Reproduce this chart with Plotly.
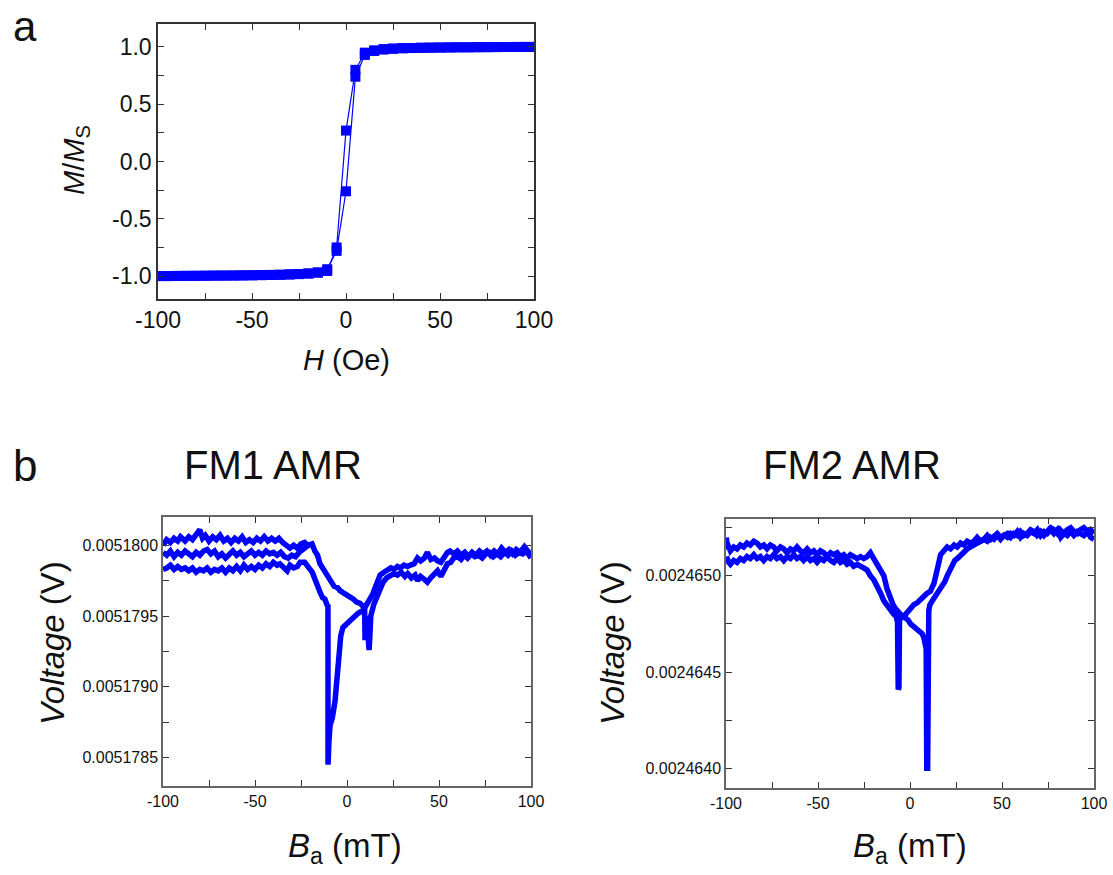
import numpy as np
import plotly.graph_objects as go

W, H_PX = 1113, 875

# ---------------- panel a : hysteresis loop ----------------
H_field = [-100, -95, -90, -85, -80, -75, -70, -65, -60, -55, -50, -45, -40, -35, -30, -25,
           -20, -15, -10, -5, 0, 5, 10, 15, 20, 25, 30, 35, 40, 45, 50, 55, 60, 65, 70, 75,
           80, 85, 90, 95, 100]
M_up = [-1.0, -1.0, -0.998, -0.998, -0.997, -0.997, -0.996, -0.996, -0.995, -0.994, -0.993,
        -0.992, -0.99, -0.989, -0.986, -0.983, -0.978, -0.97, -0.94, -0.78, -0.26, 0.74, 0.93,
        0.965, 0.978, 0.985, 0.988, 0.99, 0.992, 0.993, 0.994, 0.995, 0.996, 0.996, 0.997,
        0.998, 0.998, 0.999, 0.999, 1.0, 1.0]
M_down = [-1.0, -1.0, -0.999, -0.998, -0.998, -0.997, -0.996, -0.995, -0.995, -0.994, -0.993,
          -0.991, -0.99, -0.988, -0.985, -0.982, -0.977, -0.968, -0.955, -0.75, 0.27, 0.80, 0.95,
          0.97, 0.98, 0.985, 0.989, 0.991, 0.993, 0.994, 0.995, 0.996, 0.997, 0.997, 0.998,
          0.998, 0.999, 0.999, 1.0, 1.0, 1.0]
a_xticks = [-100, -50, 0, 50, 100]
a_xticktext = ["-100", "-50", "0", "50", "100"]
a_xminor = [-75, -25, 25, 75]
a_yticks = [-1.0, -0.5, 0.0, 0.5, 1.0]
a_yticktext = ["-1.0", "-0.5", "0.0", "0.5", "1.0"]
a_yminor = [-0.75, -0.25, 0.25, 0.75]

# ---------------- panel b1 : FM1 AMR (voltage in microvolts) ----------------
b1_inc_B = [-100, -98, -96, -94, -92, -90.5, -88, -86, -84, -82,
            -80, -78.5, -77, -75, -73, -71, -69, -67, -65, -63,
            -61, -59, -57, -55, -53, -51, -49, -47, -45, -43,
            -41, -39, -37, -35, -33, -31, -29, -27, -25, -23,
            -21.5, -19, -17.5, -16, -14.7, -12.5, -10.5, -9.2, -7, -5,
            -3.8, -1.5, 0, 1.6, 3.5, 5, 7.1, 8.7, 9.6, 9.8,
            10.1, 10.6, 11.1, 11.6, 12.0, 12.4, 12.9, 14.5, 16.3, 18,
            19.6, 21.5, 23.4, 25.5, 27.4, 29.5, 31.5, 33, 35, 37,
            38.3, 40, 42, 43.7, 45.5, 47.5, 49.2, 51, 52.5, 54.6,
            56.4, 58, 60, 62, 63.7, 65.5, 67.5, 69.5, 71.5, 73.5,
            75.5, 77.5, 79.5, 81.5, 83.5, 85.5, 87.5, 89.5, 91.5, 93.5,
            95.5, 97.5, 100]
b1_inc_V = [5180.00, 5180.04, 5180.02, 5180.05, 5180.03, 5180.06, 5180.03, 5180.06, 5180.04, 5180.07,
            5180.11, 5180.05, 5180.07, 5180.03, 5180.06, 5180.04, 5180.07, 5180.03, 5180.05, 5180.02,
            5180.05, 5180.03, 5180.06, 5180.02, 5180.04, 5180.02, 5180.05, 5180.03, 5180.06, 5180.03,
            5180.05, 5180.03, 5180.05, 5180.02, 5180.00, 5179.98, 5180.00, 5179.98, 5180.01, 5180.02,
            5180.00, 5180.01, 5179.96, 5179.93, 5179.87, 5179.82, 5179.77, 5179.75, 5179.71, 5179.70,
            5179.68, 5179.66, 5179.65, 5179.63, 5179.62, 5179.60, 5179.59, 5179.57, 5179.55, 5179.33,
            5179.45, 5179.50, 5179.42, 5179.27, 5179.26, 5179.35, 5179.50, 5179.58, 5179.64, 5179.70,
            5179.74, 5179.77, 5179.78, 5179.80, 5179.79, 5179.81, 5179.78, 5179.80, 5179.77, 5179.79,
            5179.75, 5179.78, 5179.76, 5179.74, 5179.77, 5179.80, 5179.82, 5179.78, 5179.82, 5179.87,
            5179.88, 5179.91, 5179.92, 5179.90, 5179.93, 5179.91, 5179.94, 5179.92, 5179.93, 5179.91,
            5179.94, 5179.95, 5179.92, 5179.94, 5179.92, 5179.95, 5179.93, 5179.96, 5179.93, 5179.95,
            5179.94, 5179.96, 5179.91]

b1_dec_B = [100, 98, 96.4, 94, 92, 90, 88, 86, 84, 82,
            80, 78, 76, 74, 72, 70, 68, 66, 64, 62,
            60, 58, 56, 54.6, 53, 51, 49.2, 47.5, 45.6, 43.7,
            42, 40, 38.3, 36.5, 34.5, 32.9, 31, 29, 27.4, 25.5,
            23.8, 22, 20.1, 18, 16.5, 14.1, 12, 10.5, 8.7, 6,
            3.3, 0.5, -2.2, -3.4, -4.3, -5.3, -6.5, -8.0, -9.2, -9.8,
            -10.3, -10.35, -10.9, -12.0, -13.3, -14.7, -16.2, -17.5, -18.9, -20.1,
            -21.6, -23, -25.5, -27, -29, -31, -32.5, -34.5, -36.5, -38,
            -40, -42, -44, -46, -48, -50, -52, -54, -56, -58,
            -60, -62, -64, -66, -68, -70, -72, -74, -76, -78,
            -80, -82, -84, -86, -88, -90, -92, -94, -96, -98,
            -100]
b1_dec_V = [5179.93, 5179.97, 5179.99, 5179.95, 5179.97, 5179.94, 5179.97, 5179.95, 5179.98, 5179.94,
            5179.96, 5179.93, 5179.96, 5179.94, 5179.96, 5179.93, 5179.95, 5179.92, 5179.95, 5179.93,
            5179.96, 5179.94, 5179.96, 5179.95, 5179.91, 5179.88, 5179.89, 5179.91, 5179.90, 5179.95,
            5179.91, 5179.89, 5179.91, 5179.87, 5179.86, 5179.85, 5179.86, 5179.84, 5179.85, 5179.83,
            5179.84, 5179.82, 5179.81, 5179.79, 5179.73, 5179.66, 5179.61, 5179.58, 5179.54, 5179.52,
            5179.49, 5179.46, 5179.42, 5179.36, 5179.20, 5178.99, 5178.90, 5178.78, 5178.73, 5178.62,
            5178.45, 5179.57, 5179.58, 5179.62, 5179.63, 5179.67, 5179.72, 5179.78, 5179.81, 5179.83,
            5179.86, 5179.88, 5179.88, 5179.85, 5179.84, 5179.86, 5179.82, 5179.85, 5179.87, 5179.86,
            5179.88, 5179.85, 5179.87, 5179.84, 5179.86, 5179.83, 5179.85, 5179.83, 5179.86, 5179.82,
            5179.85, 5179.82, 5179.84, 5179.81, 5179.84, 5179.82, 5179.83, 5179.81, 5179.84, 5179.82,
            5179.83, 5179.81, 5179.84, 5179.82, 5179.84, 5179.83, 5179.85, 5179.83, 5179.86, 5179.84,
            5179.83]

b1_mid_B = [-100, -98, -96, -94, -92, -90, -88, -86, -84, -82,
            -80, -78, -76, -74, -72, -70, -68, -66, -64, -62,
            -60, -58, -56, -54, -52, -50, -48, -46, -44, -42,
            -40, -38, -36, -34, -32, -30, -28, -26, -24, -22,
            -20]
b1_mid_V = [5179.95, 5179.93, 5179.96, 5179.92, 5179.95, 5179.93, 5179.96, 5179.94, 5179.92, 5179.95,
            5179.93, 5179.96, 5179.97, 5179.94, 5179.96, 5179.92, 5179.94, 5179.91, 5179.94, 5179.96,
            5179.93, 5179.95, 5179.92, 5179.94, 5179.96, 5179.93, 5179.95, 5179.93, 5179.96, 5179.94,
            5179.95, 5179.93, 5179.95, 5179.92, 5179.91, 5179.93, 5179.92, 5179.95, 5179.97, 5179.99,
            5180.01]

b1_yticks_uV = [5178.5, 5179.0, 5179.5, 5180.0]
b1_yticktext = ["0.0051785", "0.0051790", "0.0051795", "0.0051800"]
b1_yminor_uV = [5178.75, 5179.25, 5179.75]

# ---------------- panel b2 : FM2 AMR (voltage in microvolts) ----------------
b2_dec_B = [100, 98, 96.4, 94.5, 92.7, 91, 89.1, 87.3, 85.5, 83.5,
            81.5, 80.1, 78.2, 76.4, 74.5, 72.8, 71, 69, 67.3, 65.5,
            63.7, 61.9, 60, 58.3, 56.5, 54.7, 52.9, 51, 49.2, 47.4,
            45.6, 43.8, 42, 40.2, 38.3, 36.5, 34.7, 33, 31.1, 29.3,
            27.5, 25.7, 24, 22, 20.2, 18.4, 16.6, 15.7, 14.8, 13.9,
            13, 12, 11.1, 9.3, 7.5, 5.7, 3.9, 2.1, 0.3, -1.5,
            -2.4, -4.3, -5.7, -6.0, -6.4, -6.8, -7.5, -8.8, -10.6, -12.4,
            -14.2, -16, -17.9, -19.7, -21.5, -23.3, -25, -26.9, -28.7, -30.6,
            -32.4, -34.2, -36, -37.8, -39.6, -41.4, -43.2, -45, -46.9, -48.7,
            -50.5, -52.3, -54.1, -55.9, -57.8, -59.6, -61.4, -63.2, -65, -66.8,
            -68.6, -70.4, -72.3, -74.1, -75.9, -77.7, -79.5, -81.3, -83.1, -84.9,
            -86.8, -88.6, -90.4, -92.2, -94, -95.8, -97.6, -98.5, -99.8]
b2_dec_V = [2465.22, 2465.24, 2465.23, 2465.25, 2465.24, 2465.22, 2465.23, 2465.25, 2465.24, 2465.22,
            2465.24, 2465.22, 2465.24, 2465.25, 2465.23, 2465.21, 2465.23, 2465.21, 2465.23, 2465.24,
            2465.22, 2465.21, 2465.23, 2465.21, 2465.22, 2465.20, 2465.22, 2465.21, 2465.20, 2465.22,
            2465.20, 2465.19, 2465.21, 2465.19, 2465.18, 2465.20, 2465.18, 2465.17, 2465.18, 2465.16,
            2465.17, 2465.15, 2465.16, 2465.14, 2465.15, 2465.13, 2465.11, 2465.07, 2465.03, 2465.00,
            2464.96, 2464.94, 2464.92, 2464.91, 2464.89, 2464.88, 2464.86, 2464.85, 2464.83, 2464.82,
            2464.80, 2464.79, 2464.77, 2464.42, 2464.41, 2464.76, 2464.79, 2464.80, 2464.82, 2464.85,
            2464.87, 2464.91, 2464.95, 2464.98, 2465.00, 2465.03, 2465.04, 2465.05, 2465.06, 2465.05,
            2465.07, 2465.06, 2465.08, 2465.07, 2465.09, 2465.07, 2465.08, 2465.10, 2465.08, 2465.09,
            2465.07, 2465.09, 2465.08, 2465.10, 2465.08, 2465.10, 2465.09, 2465.11, 2465.09, 2465.10,
            2465.08, 2465.10, 2465.09, 2465.11, 2465.09, 2465.10, 2465.08, 2465.10, 2465.09, 2465.11,
            2465.09, 2465.10, 2465.08, 2465.09, 2465.07, 2465.08, 2465.06, 2465.07, 2465.10]

b2_inc_B = [-99.8, -99.3, -98.5, -97.6, -95.8, -94, -92.2, -90.4, -88.6, -86.8,
            -84.9, -83.1, -81.3, -79.5, -77.7, -75.9, -74.1, -72.3, -70.4, -68.6,
            -66.8, -65, -63.2, -61.4, -59.6, -57.8, -55.9, -54.1, -52.3, -50.5,
            -48.7, -46.9, -45, -43.2, -41.4, -39.6, -37.8, -36, -34.2, -32.4,
            -30.6, -28.7, -26.9, -25.1, -23.3, -21.5, -19.7, -18.4, -16.9, -15.5,
            -14.2, -12.4, -10.6, -9.2, -7.9, -6.6, -5.2, -3.8, -2.4, -1,
            0.3, 1.7, 3.0, 4.4, 5.7, 6.6, 7.5, 8.3, 8.8, 9.1,
            9.6, 10.2, 10.8, 12.1, 13.5, 14.8, 16.2, 17.5, 18.9, 20.2,
            21.5, 22.9, 24.3, 25.7, 27.5, 29.3, 31.1, 32.9, 34.7, 36.5,
            38.3, 40.2, 42, 43.8, 45.6, 47.4, 49.2, 51, 52.9, 54.7,
            56.5, 58.3, 60.1, 61.9, 63.7, 65.5, 67.3, 69.2, 71, 72.8,
            74.6, 76.4, 78.2, 80.1, 81.9, 83.7, 85.5, 87.3, 89.1, 91,
            92.7, 94.5, 96.4, 98.2, 100]
b2_inc_V = [2465.20, 2465.14, 2465.15, 2465.13, 2465.15, 2465.14, 2465.16, 2465.15, 2465.17, 2465.16,
            2465.18, 2465.17, 2465.15, 2465.16, 2465.14, 2465.16, 2465.15, 2465.13, 2465.15, 2465.14,
            2465.12, 2465.14, 2465.13, 2465.15, 2465.13, 2465.12, 2465.14, 2465.12, 2465.13, 2465.11,
            2465.13, 2465.12, 2465.10, 2465.12, 2465.11, 2465.12, 2465.10, 2465.11, 2465.09, 2465.11,
            2465.10, 2465.09, 2465.10, 2465.09, 2465.10, 2465.12, 2465.09, 2465.07, 2465.05, 2465.02,
            2465.00, 2464.93, 2464.88, 2464.85, 2464.83, 2464.81, 2464.80, 2464.79, 2464.78, 2464.77,
            2464.75, 2464.74, 2464.73, 2464.72, 2464.71, 2464.70, 2464.68, 2464.64, 2464.62, 2464.00,
            2464.00, 2464.82, 2464.85, 2464.87, 2464.89, 2464.90, 2464.92, 2464.94, 2464.97, 2465.00,
            2465.03, 2465.06, 2465.08, 2465.09, 2465.11, 2465.13, 2465.14, 2465.15, 2465.16, 2465.17,
            2465.18, 2465.19, 2465.18, 2465.20, 2465.19, 2465.21, 2465.19, 2465.21, 2465.20, 2465.22,
            2465.21, 2465.23, 2465.20, 2465.22, 2465.21, 2465.23, 2465.22, 2465.24, 2465.21, 2465.23,
            2465.22, 2465.24, 2465.22, 2465.24, 2465.20, 2465.22, 2465.21, 2465.23, 2465.21, 2465.23,
            2465.22, 2465.21, 2465.23, 2465.20, 2465.19]

b2_yticks_uV = [2464.0, 2464.5, 2465.0]
b2_yticktext = ["0.0024640", "0.0024645", "0.0024650"]
b2_yminor_uV = [2464.25, 2464.75, 2465.25]

b_xticks = [-100, -50, 0, 50, 100]
b_xticktext = ["-100", "-50", "0", "50", "100"]
b_xminor = [-75, -25, 25, 75]

BLUE = "#0000FF"
FONT = "Liberation Sans, Arial, Helvetica, sans-serif"


def px_x(x):
    return x / W


def px_y(y):
    return 1 - y / H_PX


def uv(vals):
    return list(np.array(vals) * 1e-6)


fig = go.Figure()

# panel a
for m in (M_up, M_down):
    fig.add_trace(go.Scatter(x=H_field, y=m, mode="lines+markers", xaxis="x", yaxis="y",
                             line=dict(color=BLUE, width=1.2),
                             marker=dict(symbol="square", size=10, color=BLUE),
                             showlegend=False, hoverinfo="skip"))

# panel b1
for bx, bv in ((b1_mid_B, b1_mid_V), (b1_dec_B, b1_dec_V), (b1_inc_B, b1_inc_V)):
    fig.add_trace(go.Scatter(x=bx, y=uv(bv), mode="lines", xaxis="x2", yaxis="y2",
                             line=dict(color=BLUE, width=5.5), showlegend=False, hoverinfo="skip"))

# panel b2
for bx, bv in ((b2_dec_B, b2_dec_V), (b2_inc_B, b2_inc_V)):
    fig.add_trace(go.Scatter(x=bx, y=uv(bv), mode="lines", xaxis="x3", yaxis="y3",
                             line=dict(color=BLUE, width=5.5), showlegend=False, hoverinfo="skip"))


def axis(domain, rng, tickvals, ticktext, minorvals, fsize, anchor, linecolor):
    return dict(domain=domain, range=rng, tickmode="array", tickvals=tickvals, ticktext=ticktext,
                ticks="inside", ticklen=6, tickwidth=1.2, tickcolor="#333",
                showline=True, linecolor=linecolor, linewidth=1.5, mirror="ticks",
                showgrid=False, zeroline=False, anchor=anchor, automargin=False,
                tickfont=dict(family=FONT, size=fsize, color="#111"),
                minor=dict(ticks="inside", ticklen=6, tickwidth=1.2, tickcolor="#333",
                           tickmode="array", tickvals=minorvals, showgrid=False))


fig.update_layout(
    width=W, height=H_PX,
    margin=dict(l=0, r=0, t=0, b=0, pad=0),
    paper_bgcolor="white", plot_bgcolor="white",
    xaxis=axis([px_x(158), px_x(534)], [-100, 100], a_xticks, a_xticktext, a_xminor, 23, "y", "#333"),
    yaxis=axis([px_y(299), px_y(24)], [-1.2, 1.2], a_yticks, a_yticktext, a_yminor, 23, "x", "#333"),
    xaxis2=axis([px_x(163), px_x(531)], [-100, 100], b_xticks, b_xticktext, b_xminor, 16, "y2", "#666"),
    yaxis2=axis([px_y(786), px_y(517)], [5178.30e-6, 5180.20e-6], uv(b1_yticks_uV), b1_yticktext,
                uv(b1_yminor_uV), 16, "x2", "#666"),
    xaxis3=axis([px_x(726), px_x(1094)], [-100, 100], b_xticks, b_xticktext, b_xminor, 16, "y3", "#666"),
    yaxis3=axis([px_y(788), px_y(518.5)], [2463.898e-6, 2465.298e-6], uv(b2_yticks_uV), b2_yticktext,
                uv(b2_yminor_uV), 16, "x3", "#666"),
)


def note(text, x, y, size, angle=0):
    fig.add_annotation(text=text, x=px_x(x), y=px_y(y), xref="paper", yref="paper",
                       xanchor="center", yanchor="middle", showarrow=False, textangle=angle,
                       font=dict(family=FONT, size=size, color="#111"))


note("a", 25, 27, 42)
note("b", 25, 465, 44)
note("FM1 AMR", 273, 465, 40)
note("FM2 AMR", 852, 465, 40)
note("<i>H</i> (Oe)", 346, 360, 29)
note("<i>M</i>/<i>M</i><sub>S</sub>", 76, 160, 29, -90)
note("<i>B</i><sub>a</sub> (mT)", 345, 848, 33)
note("<i>B</i><sub>a</sub> (mT)", 910, 848, 33)
note("<i>Voltage</i> (V)", 52, 643, 33, -90)
note("<i>Voltage</i> (V)", 612, 643, 33, -90)

fig.write_html("out.html", config={"displayModeBar": False},
               post_script="document.body.style.margin='0px';")
